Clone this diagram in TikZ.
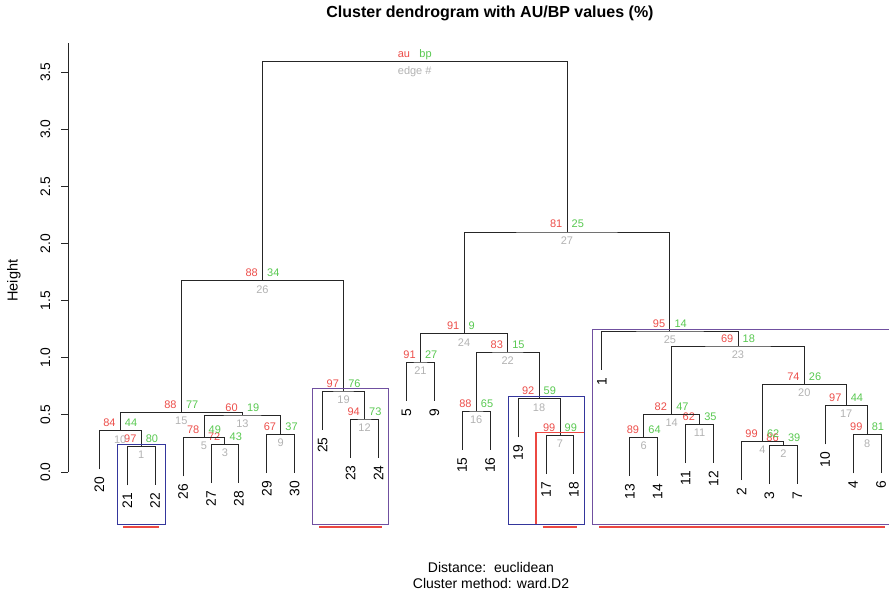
\documentclass[tikz,border=0pt]{standalone}
\usepackage{fontspec}
\setmainfont{Liberation Sans}
\definecolor{aured}{RGB}{236,78,74}
\definecolor{bpgreen}{RGB}{88,200,80}
\definecolor{edgegray}{RGB}{178,178,178}
\definecolor{navybox}{RGB}{52,54,156}
\definecolor{purplebox}{RGB}{112,80,160}
\definecolor{redbox}{RGB}{236,72,66}

% a leaf: tip coordinate (l<label>) hanging below its parent's height, label underneath
\newcommand\leaf[3]{%
  \coordinate (l#1) at (#2,#3+38.7);
  \node[leaflab] (t#1) at (#2,#3+46.2) {#1};}

% a junction: name, x, y, au, bp, edge no., left child, right child
\newcommand\junction[8]{%
  \coordinate (#1) at (#2,#3);
  \draw[dend] (#7) |- (#1) -| (#8);
  \node[aulab] (#1au) at (#2-4.5,#3-4) {#4};
  \node[bplab] (#1bp) at (#2+4.5,#3-4) {#5};
  \node[edgelab] (#1no) at (#2,#3+4.5) {#6};}

\begin{document}
\begin{tikzpicture}[x=1pt,y=-1pt,
  dend/.style={draw=black!85,line width=0.9pt},
  pvfont/.style={font=\fontsize{11}{11}\selectfont,inner sep=0pt},
  aulab/.style={pvfont,text=aured,anchor=base east},
  bplab/.style={pvfont,text=bpgreen,anchor=base west},
  edgelab/.style={pvfont,text=edgegray,anchor=north},
  leaflab/.style={font=\fontsize{13.8}{14}\selectfont,rotate=90,anchor=east,inner sep=0pt},
  ticklab/.style={font=\fontsize{13.8}{14}\selectfont,rotate=90,anchor=base,inner sep=0pt},
  axisline/.style={draw=black!85,line width=0.9pt},
  boxline/.style={line width=1.2pt},
  underline/.style={draw=redbox,line width=2.2pt}]
\useasboundingbox (0,0) rectangle (889,596);
\clip (0,0) rectangle (889,596);

% title and method lines
\node[font=\bfseries\fontsize{16}{16}\selectfont,inner sep=0pt] (title) at (490,13) {Cluster dendrogram with AU/BP values (\%)};
\node[font=\fontsize{14}{14}\selectfont,inner sep=0pt] (dist) at (491,567) {Distance:\ \ euclidean};
\node[font=\fontsize{14}{14}\selectfont,inner sep=0pt] (meth) at (491,583) {Cluster method: ward.D2};

% height axis
\coordinate (ytop) at (68,43);
\coordinate (ybot) at (68,472);
\draw[axisline] (ybot) -- (ytop);
\foreach \v/\t [count=\i] in {0/0.0,0.5/0.5,1/1.0,1.5/1.5,2/2.0,2.5/2.5,3/3.0,3.5/3.5}
  \draw[axisline] (68,472-\v*114.2) -- (61,472-\v*114.2)
    node[ticklab] (yt\i) at (50,472-\v*114.2) {\t};
\node[font=\fontsize{14.5}{15}\selectfont,rotate=90,inner sep=0pt] (ylab) at (14,280.7) {Height};

% leaves
\leaf{20}{99.30}{430.7}
\leaf{21}{127.22}{446.7}
\leaf{22}{155.14}{446.7}
\leaf{26}{183.06}{437.7}
\leaf{27}{210.98}{444.3}
\leaf{28}{238.90}{444.3}
\leaf{29}{266.82}{434.3}
\leaf{30}{294.74}{434.3}
\leaf{25}{322.66}{391}
\leaf{23}{350.58}{419}
\leaf{24}{378.50}{419}
\leaf{5}{406.42}{362}
\leaf{9}{434.34}{362}
\leaf{15}{462.26}{411}
\leaf{16}{490.18}{411}
\leaf{19}{518.10}{398.7}
\leaf{17}{546.02}{435.3}
\leaf{18}{573.94}{435.3}
\leaf{1}{601.86}{331}
\leaf{13}{629.78}{437.3}
\leaf{14}{657.70}{437.3}
\leaf{11}{685.62}{424.3}
\leaf{12}{713.54}{424.3}
\leaf{2}{741.46}{441.3}
\leaf{3}{769.38}{445.3}
\leaf{7}{797.30}{445.3}
\leaf{10}{825.22}{405.7}
\leaf{4}{853.14}{434.7}
\leaf{6}{881.06}{434.7}

% junctions, lowest first
\junction{e1}{141.18}{446.7}{97}{80}{1}{l21}{l22}
\junction{e2}{783.34}{445.3}{86}{39}{2}{l3}{l7}
\junction{e3}{224.94}{444.3}{72}{43}{3}{l27}{l28}
\junction{e4}{762.40}{441.3}{99}{62}{4}{l2}{e2}
\junction{e5}{204.00}{437.7}{78}{49}{5}{l26}{e3}
\junction{e6}{643.74}{437.3}{89}{64}{6}{l13}{l14}
\junction{e7}{559.98}{435.3}{99}{99}{7}{l17}{l18}
\junction{e8}{867.10}{434.7}{99}{81}{8}{l4}{l6}
\junction{e9}{280.78}{434.3}{67}{37}{9}{l29}{l30}
\junction{e10}{120.24}{430.7}{84}{44}{10}{l20}{e1}
\junction{e11}{699.58}{424.3}{62}{35}{11}{l11}{l12}
\junction{e12}{364.54}{419}{94}{73}{12}{l23}{l24}
\junction{e13}{242.39}{415}{60}{19}{13}{e5}{e9}
\junction{e14}{671.66}{414.7}{82}{47}{14}{e6}{e11}
\junction{e15}{181.315}{412.7}{88}{77}{15}{e10}{e13}
\junction{e16}{476.22}{411}{88}{65}{16}{l15}{l16}
\junction{e17}{846.16}{405.7}{97}{44}{17}{l10}{e8}
\junction{e18}{539.04}{398.7}{92}{59}{18}{l19}{e7}
\junction{e19}{343.60}{391}{97}{76}{19}{l25}{e12}
\junction{e20}{804.28}{384.3}{74}{26}{20}{e4}{e17}
\junction{e21}{420.38}{362}{91}{27}{21}{l5}{l9}
\junction{e22}{507.63}{352}{83}{15}{22}{e16}{e18}
\junction{e23}{737.97}{346}{69}{18}{23}{e14}{e20}
\junction{e24}{464.005}{333.7}{91}{9}{24}{e21}{e22}
\junction{e25}{669.915}{331}{95}{14}{25}{l1}{e23}
\junction{e26}{262.46}{280.7}{88}{34}{26}{e15}{e19}
\junction{e27}{566.96}{232}{81}{25}{27}{e24}{e25}
\junction{eroot}{414.71}{61.7}{au}{bp}{edge \#}{e26}{e27}

% highlighted clusters
\draw[boxline,draw=navybox] (117.3,444.3) rectangle (165.3,524.3);
\draw[boxline,draw=purplebox] (312.7,388.7) rectangle (388.7,524.3);
\draw[boxline,draw=redbox] (536,432.3) rectangle (584.3,524.3);
\draw[boxline,draw=navybox] (508.3,396.7) rectangle (584.3,524.3);
\draw[boxline,draw=purplebox] (592.3,329.3) rectangle (892,524.3);

% marks under the clusters
\draw[underline] (123.3,527) -- (158.7,527);
\draw[underline] (319.3,527) -- (382,527);
\draw[underline] (542.7,527) -- (577.3,527);
\draw[underline] (599,527) -- (885,527);
\end{tikzpicture}
\end{document}
